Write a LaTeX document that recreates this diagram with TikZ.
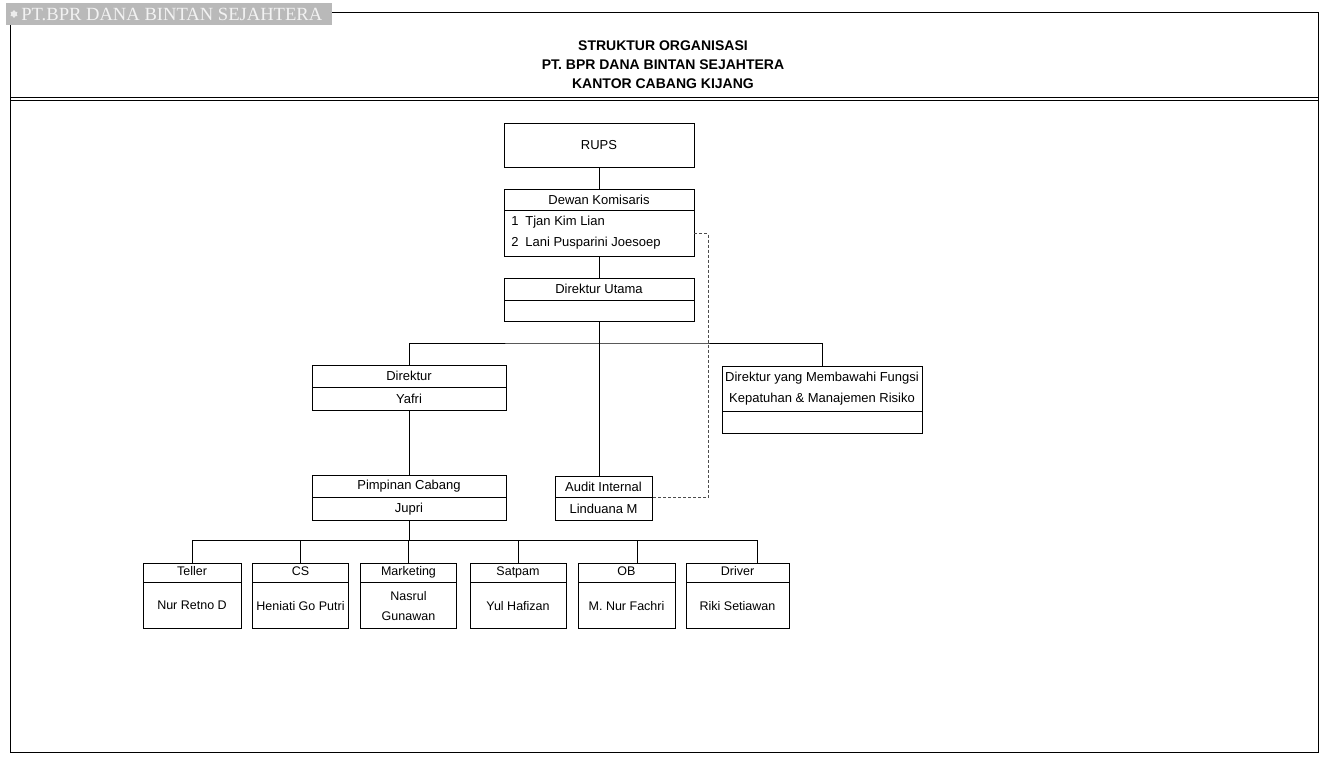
\documentclass[tikz,border=0pt]{standalone}
\usepackage{fontspec}
\setmainfont{Liberation Sans}
\newfontfamily\bannerfont{Liberation Serif}
\usetikzlibrary{positioning,shapes.geometric}

\newcommand{\orgfont}{\fontsize{13}{21}\selectfont}
\newcommand{\stafffont}{\fontsize{12.5}{20}\selectfont}
\tikzset{every picture/.style={line width=0.75pt}}
\tikzset{
  orgbox/.style={draw, rectangle, inner sep=0pt, minimum width=190, minimum height=21, font=\orgfont},
  orgtext/.style={anchor=west, inner sep=0pt, font=\orgfont},
  dashlink/.style={draw=gray!60!black, dash pattern=on 3pt off 2pt},
}

\begin{document}
\begin{tikzpicture}[x=1pt,y=1pt,yscale=-1]
\useasboundingbox (0,0) rectangle (1326,762);

%Shape: Frame
\draw (10,12) rectangle (1318,752);
\draw (10,97) -- (1318,97);
\draw (10,100) -- (1318,100);
%Shape: Banner
\fill[gray!55] (6,3) rectangle (332,25);
\node[star, star points=6, fill=gray!15, inner sep=0pt, minimum size=8] (logo) at (14,14) {};
\node[anchor=west, inner sep=0pt, text=gray!10, font=\bannerfont\fontsize{18.6}{19}\selectfont] (banner) at (21,14.5) {PT.BPR DANA BINTAN SEJAHTERA};

% Title
\node[align=center, font=\bfseries\fontsize{14}{19}\selectfont] (title) at (663,65) {STRUKTUR ORGANISASI\\PT. BPR DANA BINTAN SEJAHTERA\\KANTOR CABANG KIJANG};

% Top of the chart
\node[orgbox, minimum height=44] (rups) at (599,145) {RUPS};
\node[orgbox] (dkhead) at (599,199.5) {Dewan Komisaris};
\node[orgbox, minimum height=46, below=0pt of dkhead] (dkbody) {};
\node[orgtext] (dk1) at (511,222) {\makebox[14pt][l]{1}Tjan Kim Lian};
\node[orgtext] (dk2) at (511,243) {\makebox[14pt][l]{2}Lani Pusparini Joesoep};
\node[orgbox, minimum height=22] (duhead) at (599,289) {Direktur Utama};
\node[orgbox, below=0pt of duhead] (dubody) {};

% Directors
\node[orgbox, minimum width=194, minimum height=22] (dirhead) at (409,376) {Direktur};
\node[orgbox, minimum width=194, minimum height=23, below=0pt of dirhead] (dirbody) {Yafri};
\node[orgbox, minimum width=200, minimum height=45, align=center] (kmhead) at (822,388.5) {Direktur yang Membawahi Fungsi\\Kepatuhan \& Manajemen Risiko};
\node[orgbox, minimum width=200, minimum height=22, below=0pt of kmhead] (kmbody) {};

% Branch and audit
\node[orgbox, minimum width=194, minimum height=22] (pchead) at (409,486) {Pimpinan Cabang};
\node[orgbox, minimum width=194, minimum height=23, below=0pt of pchead] (pcbody) {Jupri};
\node[orgbox, minimum width=97, minimum height=21] (aihead) at (603.5,486.5) {Audit Internal};
\node[orgbox, minimum width=97, minimum height=23, below=0pt of aihead] (aibody) {Linduana M};

% Staff
\foreach \n/\x/\w/\t/\b in {teller/192/98/Teller/Nur Retno D, cs/300.5/96/CS/Heniati Go Putri, mkt/408.5/96/Marketing/{Nasrul\\Gunawan}, satpam/518/96/Satpam/Yul Hafizan, ob/626.5/97/OB/M. Nur Fachri, driver/737.5/103/Driver/Riki Setiawan} {
  \node[orgbox, minimum width=\w, minimum height=19, text height=9, text depth=2.5, font=\stafffont] (\n-head) at (\x,572.5) {\t};
  \node[orgbox, minimum width=\w, minimum height=46, align=center, font=\stafffont, below=0pt of \n-head] (\n-body) {\b};
}

% Connectors
\coordinate (bus1) at (599,343);
\coordinate (bus2) at (409,540);
\draw (rups) -- (dkhead);
\draw (dkbody) -- (duhead);
\draw (dubody.south) -- (dubody.south |- aihead.north);
\draw (dirhead.north) |- (bus1) -| (kmhead.north);
\draw (dirbody) -- (pchead);
\draw (pcbody) -- (bus2);
\draw (teller-head.north |- bus2) -- ([xshift=20]driver-head.north |- bus2);
\foreach \n/\s in {teller/0, cs/0, mkt/0, satpam/0, ob/11, driver/20}
  \draw ([xshift=\s]\n-head.north) -- ([xshift=\s]\n-head.north |- bus2);
\draw[dashlink] (dkbody.east) -- ++(14,0) |- (aibody.north east);

\end{tikzpicture}
\end{document}
